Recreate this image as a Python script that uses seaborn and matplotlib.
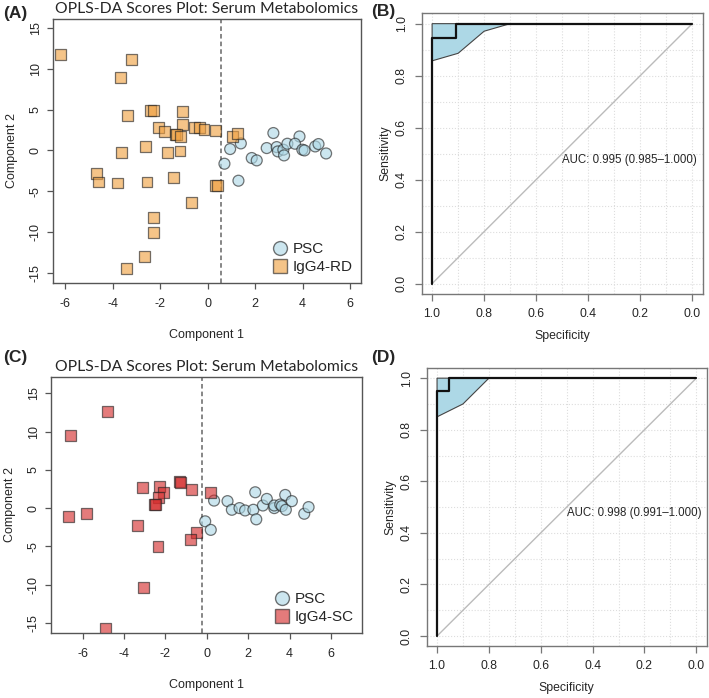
import numpy as np
import pandas as pd
import matplotlib
matplotlib.use('Agg')
import matplotlib.pyplot as plt
from matplotlib.lines import Line2D
import seaborn as sns

# ---- data ----
# panel A: PSC vs IgG4-RD
psc_a_x = [2.77, 3.87, 1.40, 0.95, 2.49, 2.91, 2.96, 3.19, 3.22, 3.36, 3.68, 3.99, 4.08,
           4.53, 4.67, 4.99, 1.86, 2.07, 0.71, 1.30]
psc_a_y = [2.13, 1.71, 0.86, 0.17, 0.29, 0.41, -0.12, 0.09, -0.61, 0.82, 0.82, 0.09, 0.0,
           0.49, 0.78, -0.37, -0.93, -1.22, -1.63, -3.71]
rd_x = [-6.21, -3.22, -3.68, -3.38, -2.42, -2.29, -1.06, -2.05, -1.83, -1.07, -1.37, -1.30,
        -1.13, -0.55, -0.32, -0.15, 0.32, 1.04, 1.27, -3.61, -2.63, -1.69, -1.16,
        -4.67, -4.58, -3.81, -2.55, -1.42, 0.32, 0.40, -0.69, -2.28, -2.29, -2.67, -3.40]
rd_y = [11.7, 11.1, 8.9, 4.33, 4.86, 4.86, 4.82, 2.86, 2.33, 3.23, 1.90, 1.90,
        1.71, 2.86, 2.80, 2.60, 2.45, 1.70, 2.04, -0.28, 0.49, -0.24, -0.07,
        -2.77, -3.87, -3.99, -3.87, -3.34, -4.32, -4.32, -6.36, -8.2, -10.0, -12.97, -14.5]
cut_a = 0.56

# panel C: PSC vs IgG4-SC
psc_c_x = [0.35, 1.00, 1.21, 1.58, 1.85, 2.34, 2.25, 2.39, 2.71, 2.90, 3.26, 3.26, 3.55,
           3.63, 3.79, 3.82, 4.11, 4.71, 4.92, -0.08, 0.19]
psc_c_y = [0.98, 0.91, -0.22, 0.0, -0.31, 2.07, -0.22, -1.47, 0.34, 1.20, 0.0, 0.34, 0.47,
           0.26, 1.72, -0.22, 0.91, -0.74, 0.13, -1.73, -2.85]
sc_x = [-4.81, -6.61, -3.10, -2.29, -2.10, -2.34, -2.55, -2.49, -1.34, -1.26, -0.73, 0.16,
        -6.71, -5.84, -3.36, -0.48, -0.81, -2.36, -3.07, -4.91]
sc_y = [12.7, 9.53, 2.72, 2.85, 2.07, 1.37, 0.43, 0.43, 3.50, 3.37, 2.41, 2.07,
        -1.09, -0.74, -2.25, -3.20, -4.10, -4.97, -10.36, -15.72]
cut_c = -0.24

# ROC curves (specificity, sensitivity) and CI lower bound
roc_b_spec = [1.0, 1.0, 0.909, 0.909, 0.0]
roc_b_sens = [0.0, 0.943, 0.943, 1.0, 1.0]
ci_b_spec = [1.0, 1.0, 0.9, 0.8, 0.7]
ci_b_sens = [1.0, 0.857, 0.886, 0.971, 1.0]
auc_b = 'AUC: 0.995 (0.985\u20131.000)'

roc_d_spec = [1.0, 1.0, 0.955, 0.955, 0.0]
roc_d_sens = [0.0, 0.952, 0.952, 1.0, 1.0]
ci_d_spec = [1.0, 1.0, 0.9, 0.8]
ci_d_sens = [1.0, 0.85, 0.90, 1.0]
auc_d = 'AUC: 0.998 (0.991\u20131.000)'

sns.set_style('white')
plt.rcParams['font.family'] = ['Liberation Sans', 'DejaVu Sans']

fig = plt.figure(figsize=(7.09, 6.98), dpi=100)

EDGE = '#555555'
colors = {'PSC': '#ADD8E6', 'IgG4-RD': '#F0A040', 'IgG4-SC': '#D42A2A'}


def style_frame(ax, color=EDGE):
    for sp in ax.spines.values():
        sp.set_visible(True)
        sp.set_color(color)
        sp.set_linewidth(1.0)


def scores_panel(ax, px, py, gx, gy, gname, cut, xlim, ylim):
    df = pd.DataFrame({
        'c1': list(px) + list(gx),
        'c2': list(py) + list(gy),
        'Group': ['PSC'] * len(px) + [gname] * len(gx),
    })
    sns.scatterplot(data=df, x='c1', y='c2', hue='Group', style='Group',
                    markers={'PSC': 'o', gname: 's'},
                    palette={'PSC': colors['PSC'], gname: colors[gname]},
                    s=62, alpha=0.62, edgecolor='#222222', linewidth=0.9,
                    legend=False, ax=ax)
    ax.axvline(cut, color='#666666', ls=(0, (3, 2)), lw=1.1, zorder=0)
    ax.set_xlim(*xlim)
    ax.set_ylim(*ylim)
    ax.set_xticks([-6, -4, -2, 0, 2, 4, 6])
    ax.set_yticks([-15, -10, -5, 0, 5, 10, 15])
    ax.set_xticklabels(['-6', '-4', '-2', '0', '2', '4', '6'])
    ax.set_yticklabels(['-15', '-10', '-5', '0', '5', '10', '15'])
    ax.tick_params(axis='both', direction='out', length=4, width=0.9,
                   color=EDGE, labelsize=9, left=True, bottom=True)
    ax.tick_params(axis='x', pad=7)
    ax.tick_params(axis='y', labelrotation=90, pad=4)
    plt.setp(ax.get_yticklabels(), va='center')
    ax.set_xlabel('Component 1', fontsize=9, labelpad=14)
    ax.set_ylabel('Component 2', fontsize=9, labelpad=8)
    ax.set_title('OPLS-DA Scores Plot: Serum Metabolomics', family='Lato',
                 fontsize=11.3, pad=4)
    style_frame(ax)
    handles = [
        Line2D([], [], marker='o', ls='', markersize=10, markerfacecolor=colors['PSC'],
               markeredgecolor='#222222', alpha=0.62, markeredgewidth=1.0),
        Line2D([], [], marker='s', ls='', markersize=10, markerfacecolor=colors[gname],
               markeredgecolor='#222222', alpha=0.62, markeredgewidth=1.0),
    ]
    ax.legend(handles, ['PSC', gname], loc='lower right', frameon=False,
              fontsize=11, handlelength=1.0, handletextpad=0.3, labelspacing=0.25,
              borderaxespad=0.15)


def roc_panel(ax, spec, sens, ci_spec, ci_sens, text):
    ax.set_xlim(1.04, -0.04)
    ax.set_ylim(-0.04, 1.04)
    ax.set_xticks(np.arange(0, 1.01, 0.1), minor=True)
    ax.set_yticks(np.arange(0, 1.01, 0.1), minor=True)
    ax.grid(True, which='both', color='#DDDDDD', ls=':', lw=0.8)
    ax.set_axisbelow(True)
    diag = pd.DataFrame({'spec': [1.0, 0.0], 'sens': [0.0, 1.0]})
    sns.lineplot(data=diag, x='spec', y='sens', color='#BBBBBB', lw=1.0,
                 sort=False, estimator=None, ax=ax)
    ax.fill(ci_spec, ci_sens, facecolor='#ADD8E6', edgecolor='#444444',
            lw=0.8, zorder=2)
    curve = pd.DataFrame({'spec': spec, 'sens': sens})
    sns.lineplot(data=curve, x='spec', y='sens', color='#111111', lw=1.6,
                 sort=False, estimator=None, ax=ax, zorder=3)
    ax.text(0.5, 0.5, text, ha='left', va='top', fontsize=8.3)
    ax.set_xticks([1.0, 0.8, 0.6, 0.4, 0.2, 0.0])
    ax.set_xticklabels(['1.0', '0.8', '0.6', '0.4', '0.2', '0.0'])
    ax.set_yticks([0.0, 0.2, 0.4, 0.6, 0.8, 1.0])
    ax.set_yticklabels(['0.0', '0.2', '0.4', '0.6', '0.8', '1.0'])
    ax.tick_params(axis='both', which='major', direction='out', length=5, width=0.9,
                   color='#777777', labelsize=8.8, left=True, bottom=True)
    ax.tick_params(axis='both', which='minor', length=0)
    ax.tick_params(axis='x', pad=5)
    ax.tick_params(axis='y', labelrotation=90, pad=5)
    plt.setp(ax.get_yticklabels(), va='center')
    ax.set_xlabel('Specificity', fontsize=8.8, labelpad=7)
    ax.set_ylabel('Sensitivity', fontsize=8.8, labelpad=3)
    style_frame(ax, '#777777')


ax_a = fig.add_axes([0.0743, 0.595, 0.4349, 0.3778])
ax_b = fig.add_axes([0.5948, 0.5788, 0.3963, 0.4022])
ax_c = fig.add_axes([0.0715, 0.0936, 0.4390, 0.3668])
ax_d = fig.add_axes([0.6018, 0.0740, 0.3950, 0.3990])

scores_panel(ax_a, psc_a_x, psc_a_y, rd_x, rd_y, 'IgG4-RD', cut_a, (-6.52, 6.46), (-16.2, 16.1))
scores_panel(ax_c, psc_c_x, psc_c_y, sc_x, sc_y, 'IgG4-SC', cut_c, (-7.55, 7.5), (-16.3, 17.2))
roc_panel(ax_b, roc_b_spec, roc_b_sens, ci_b_spec, ci_b_sens, auc_b)
roc_panel(ax_d, roc_d_spec, roc_d_sens, ci_d_spec, ci_d_sens, auc_d)

for lbl, x, y in [('(A)', 0.004, 0.981), ('(B)', 0.524, 0.983),
                  ('(C)', 0.004, 0.488), ('(D)', 0.524, 0.488)]:
    fig.text(x, y, lbl, fontsize=12.5, fontweight='bold', ha='left', va='center')

fig.savefig('out.png', dpi=100)
